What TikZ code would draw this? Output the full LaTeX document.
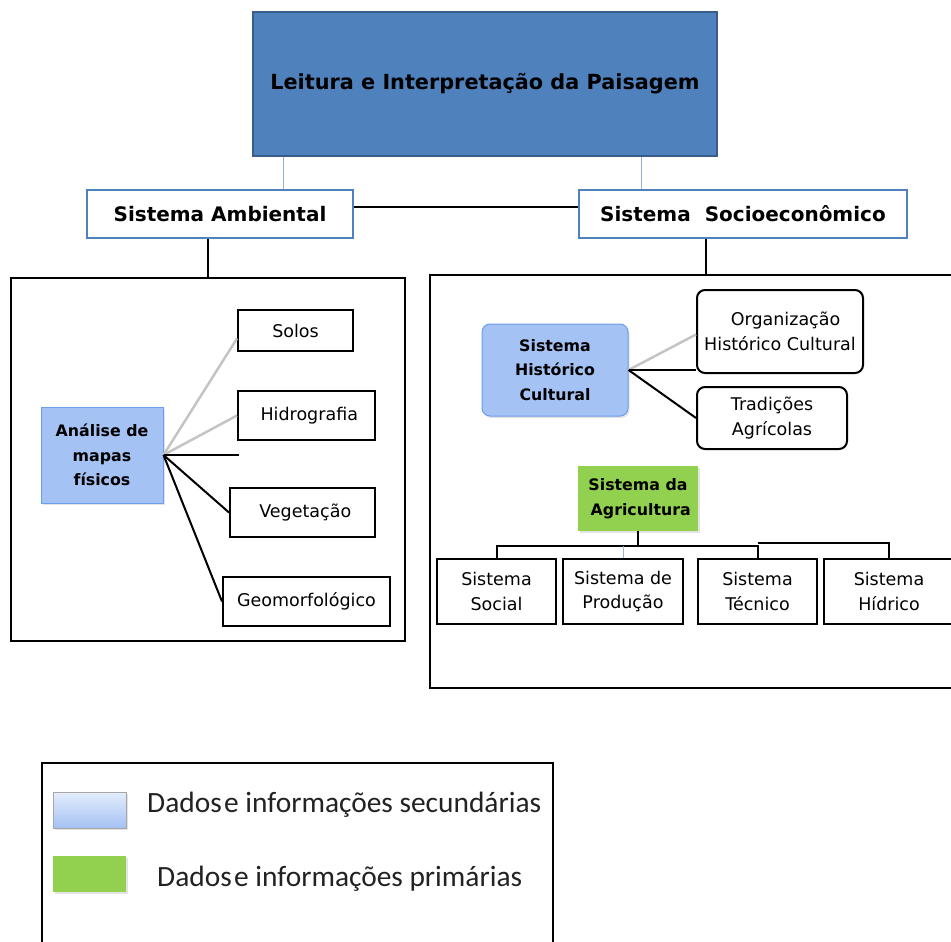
\documentclass[tikz,border=0pt]{standalone}
\usepackage{fontspec}
\setmainfont{DejaVu Sans}
\newfontfamily\legendfont{Carlito}
\usepackage{xcolor}
\usetikzlibrary{positioning,calc,shadows}
\definecolor{titleblue}{RGB}{79,129,189}
\definecolor{titleedge}{RGB}{56,93,138}
\definecolor{paleblue}{RGB}{164,194,244}
\definecolor{paleedge}{RGB}{109,158,235}
\definecolor{leafgreen}{RGB}{146,208,80}
\definecolor{linkgray}{RGB}{196,196,196}
\definecolor{inkgray}{RGB}{34,34,34}
\newcommand{\bodysize}{\fontsize{17.5}{24.5}\selectfont}
\newcommand{\boldsize}{\fontsize{15.8}{24.5}\selectfont\bfseries}
\tikzset{
  box/.style={draw, line width=2pt, inner sep=0pt, align=center, font=\bodysize},
  roundbox/.style={box, rounded corners=8pt},
  frame/.style={draw, line width=2.5pt, inner sep=0pt},
  headbox/.style={draw=titleblue, line width=2pt, fill=white, inner sep=0pt,
                  align=center, font=\fontsize{20}{24}\selectfont\bfseries},
  softshadow/.style={drop shadow={opacity=0.22, shadow xshift=1.5pt, shadow yshift=-2pt}},
  paleboxstyle/.style={draw=paleedge, line width=1pt, fill=paleblue, inner sep=0pt,
                  align=center, font=\boldsize, softshadow},
  greenbox/.style={fill=leafgreen, inner sep=0pt, align=center, font=\boldsize, softshadow},
  link/.style={line width=2pt, black},
  graylink/.style={line width=2.5pt, linkgray},
  bluelink/.style={line width=0.8pt, titleblue!60},
}
\begin{document}
\begin{tikzpicture}[x=1pt, y=-1pt]
  \useasboundingbox (0,0) rectangle (951,942);
  \clip (0,0) rectangle (951,942);

  % top level
  \node[draw=titleedge, line width=2pt, fill=titleblue, inner sep=0pt,
        minimum width=464pt, minimum height=144pt,
        font=\fontsize{20.8}{24}\selectfont\bfseries] (title) at (485,84)
        {Leitura e Interpretação da Paisagem};
  \node[headbox, minimum width=266pt, minimum height=48pt] (amb) at (220,214) {Sistema Ambiental};
  \node[headbox, minimum width=328pt, minimum height=48pt] (soc) at (743,214) {Sistema\ \ Socioeconômico};

  % frames
  \node[frame, minimum width=394pt, minimum height=363pt] (frameL) at (208,459.5) {};
  \node[frame, minimum width=552pt, minimum height=413pt] (frameR) at (706,481.5) {};

  % left frame
  \node[paleboxstyle, minimum width=122pt, minimum height=96pt] (mapas) at (102,455) {Análise de\\mapas\\físicos};
  \node[box, minimum width=115pt, minimum height=41pt] (solos) at (295.5,330.5) {Solos};
  \node[box, minimum width=137pt, minimum height=49pt] (hidro) at (306.5,415.5) {\ Hidrografia};
  \node[box, minimum width=145pt, minimum height=49pt] (veg) at (302.5,512.5) {\ Vegetação};
  \node[box, minimum width=167pt, minimum height=49pt] (geo) at (306.5,601.5) {Geomorfológico};
  \coordinate (loose) at ($(mapas.east)+(75,0)$);

  % right frame
  \node[paleboxstyle, rounded corners=8pt, minimum width=146pt, minimum height=92pt] (hist) at (555,370) {Sistema\\Histórico\\Cultural};
  \node[roundbox, minimum width=166pt, minimum height=83pt] (org) at (780,331.5) {\ \ Organização\\Histórico Cultural};
  \node[roundbox, minimum width=150pt, minimum height=62pt] (trad) at (772,418) {Tradições\\Agrícolas};
  \node[greenbox, minimum width=120pt, minimum height=65pt] (agri) at (638,498.5) {Sistema da\\\ Agricultura};
  \node[box, minimum width=119pt, minimum height=65pt] (social) at (496.5,591.5) {Sistema\\Social};
  \node[box, minimum width=120pt, minimum height=65pt] (prod) at (623,591.5) {Sistema de\\Produção};
  \node[box, minimum width=119pt, minimum height=65pt] (tec) at (757.5,591.5) {Sistema\\Técnico};
  \node[box, minimum width=130pt, minimum height=65pt] (hid) at (889,591.5) {Sistema\\Hídrico};
  \coordinate (bus) at ($(agri.south)+(0,15)$);
  \coordinate (bus2) at ($(tec.north |- bus)+(0,-3)$);

  % connectors
  \draw[bluelink] ([xshift=31pt]title.south west) -- ([xshift=31pt]title.south west |- amb.north);
  \draw[bluelink] ([xshift=-77pt]title.south east) -- ([xshift=-77pt]title.south east |- soc.north);
  \draw[link] ([yshift=7pt]amb.east) -- ([yshift=7pt]amb.east -| soc.west);
  \draw[link] (frameL.north) -- (frameL.north |- amb.south);
  \draw[link] (frameR.north) -- (frameR.north |- soc.south);

  \draw[graylink] (mapas.east) -- ([yshift=-8pt]solos.west);
  \draw[graylink] (mapas.east) -- (hidro.west);
  \draw[link] (mapas.east) -- (loose);
  \draw[link] (mapas.east) -- (veg.west);
  \draw[link] (mapas.east) -- (geo.west);

  \draw[graylink] (hist.east) -- ([yshift=-3pt]org.west);
  \draw[link] (hist.east) -- (hist.east -| org.west);
  \draw[link] (hist.east) -- (trad.west);

  \draw[link] (agri.south) -- (bus);
  \draw[link] (social.north) |- (bus) -| (tec.north);
  \draw[link] (bus2) -| (hid.north);
  \draw[bluelink] (prod.north) -- (prod.north |- bus);

  % legend
  \node[frame, minimum width=511pt, minimum height=200pt] (legend) at (297.5,863) {};
  \node[draw=gray!70, line width=0.8pt, top color=paleblue!30, bottom color=paleblue,
        minimum width=73pt, minimum height=36pt, inner sep=0pt, softshadow] (sw1) at (89.5,810) {};
  \node[fill=leafgreen, minimum width=73pt, minimum height=36pt, inner sep=0pt, softshadow] (sw2) at (89.5,874) {};
  \node[anchor=west, inner sep=0pt, text=inkgray, font=\legendfont\fontsize{29.4}{32}\selectfont]
        (lab1) at (147,805) {Dados\hspace{0.08em}e informações secundárias};
  \node[anchor=west, inner sep=0pt, text=inkgray, font=\legendfont\fontsize{29.4}{32}\selectfont]
        (lab2) at (157,879) {Dados\hspace{0.08em}e informações primárias};
\end{tikzpicture}
\end{document}
